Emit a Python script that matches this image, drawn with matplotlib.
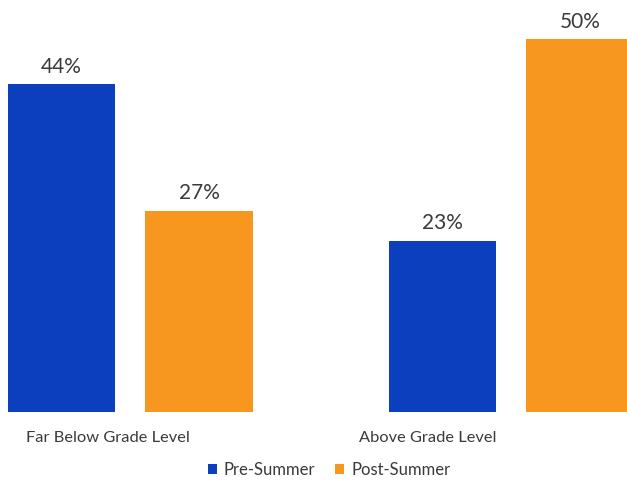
import matplotlib
matplotlib.use("Agg")
import matplotlib.pyplot as plt
from matplotlib.patches import Patch

plt.rcParams['font.family'] = ['Lato', 'DejaVu Sans']

categories = ["Far Below Grade Level", "Above Grade Level"]
series_names = ["Pre-Summer", "Post-Summer"]
pre_summer = [44, 23]
post_summer = [27, 50]

colors = ["#0b3fbe", "#f7971f"]
text_color = "#3a3a3a"

# bar positions (in bar widths)
group_left = [0.0, 3.55]
pair_gap = 1.28
label_x = [0.43, 3.41]

fig = plt.figure(figsize=(6.27, 4.84), dpi=100)
ax = fig.add_axes([0, 1 - 412 / 484, 1, 412 / 484])

for i, vals in enumerate([pre_summer, post_summer]):
    xs = [g + i * pair_gap for g in group_left]
    ax.bar(xs, vals, width=1.0, color=colors[i], linewidth=0)
    for x, v in zip(xs, vals):
        ax.text(x, v + 1.0, f"{v}%", ha="center", va="bottom",
                fontsize=15, color=text_color)

ax.set_xlim(-0.575, 5.27)
ax.set_ylim(0, 55.3)
ax.axis("off")

for x, cat in zip(label_x, categories):
    ax.text(x, -3.5, cat, ha="center", va="center", fontsize=11.8,
            color=text_color, clip_on=False)

handles = [Patch(facecolor=c, edgecolor="none", label=n)
           for c, n in zip(colors, series_names)]
fig.legend(handles=handles, loc="center", bbox_to_anchor=(329 / 627, 1 - 470 / 484),
           ncol=2, frameon=False, fontsize=12, handlelength=0.55, handleheight=0.55,
           handletextpad=0.4, columnspacing=1.2, labelcolor=text_color)

fig.savefig("out.png", dpi=100, facecolor="white")
